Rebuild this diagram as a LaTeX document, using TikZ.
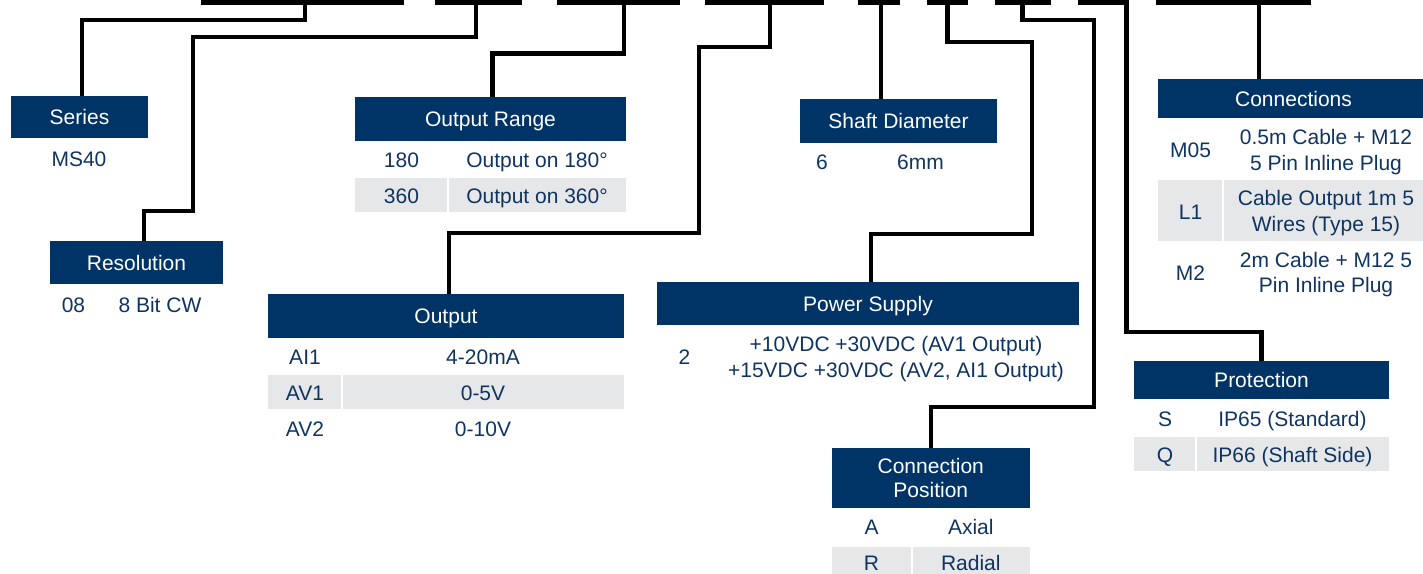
\documentclass[tikz,border=0pt]{standalone}
\usepackage{fontspec}
\setmainfont{Liberation Sans}
\definecolor{navy}{RGB}{0,52,102}
\definecolor{txtnavy}{RGB}{16,52,98}
\definecolor{rowgray}{RGB}{230,231,232}
\begin{document}
\begin{tikzpicture}[x=1pt,y=-1pt,
  font=\fontsize{21}{24}\selectfont,
  hdr/.style={fill=navy, text=white, inner sep=0pt, text height=15pt, text depth=0pt, anchor=center},
  hdrtxt/.style={text=white, inner sep=0pt, anchor=base},
  val/.style={text=txtnavy, inner sep=0pt, anchor=base},
  bar/.style={fill=black, inner sep=0pt, minimum height=4.5pt, anchor=north west},
  conn/.style={draw=black, line width=4.5pt}]
\useasboundingbox (0,0) rectangle (1423,573);
\clip (0,0) rectangle (1423,573);

% top code bars
\node[bar, minimum width=203pt] (b1) at (201,0) {};
\node[bar, minimum width=87pt]  (b2) at (435,0) {};
\node[bar, minimum width=123pt] (b3) at (557,0) {};
\node[bar, minimum width=119pt] (b4) at (705,0) {};
\node[bar, minimum width=42pt]  (b5) at (858,0) {};
\node[bar, minimum width=41pt]  (b6) at (927,0) {};
\node[bar, minimum width=56pt]  (b7) at (995,0) {};
\node[bar, minimum width=51pt]  (b8) at (1078,0) {};
\node[bar, minimum width=155pt] (b9) at (1156,0) {};

% gray row bands
\fill[rowgray] (355,178) rectangle (447,212);
\fill[rowgray] (449,178) rectangle (626,212);
\fill[rowgray] (268,375) rectangle (341,409);
\fill[rowgray] (343,375) rectangle (624,409);
\fill[rowgray] (831.5,547) rectangle (910.5,590);
\fill[rowgray] (912.5,547) rectangle (1030,590);
\fill[rowgray] (1134,437) rectangle (1195,471);
\fill[rowgray] (1197,437) rectangle (1389,471);
\fill[rowgray] (1158,180) rectangle (1222,241);
\fill[rowgray] (1224,180) rectangle (1429,241);

% headers
\node[hdr, minimum width=137pt, minimum height=42pt] (h1) at (79.5,117) {Series};
\node[hdr, minimum width=173pt, minimum height=43pt] (h2) at (136.5,262.5) {Resolution};
\node[hdr, minimum width=271pt, minimum height=44pt] (h3) at (490.5,119) {Output Range};
\node[hdr, minimum width=356pt, minimum height=44pt] (h4) at (446,316) {Output};
\node[hdr, minimum width=197pt, minimum height=44pt] (h5) at (898.5,121) {Shaft Diameter};
\node[hdr, minimum width=422pt, minimum height=43pt] (h6) at (868,303.5) {Power Supply};
\node[hdr, minimum width=198.5pt, minimum height=60pt] (h7) at (930.75,478) {};
\node[hdrtxt] (h7a) at (930.75,473.5) {Connection};
\node[hdrtxt] (h7b) at (930.75,497.5) {Position};
\node[hdr, minimum width=255pt, minimum height=38pt] (h8) at (1261.5,380) {Protection};
\node[hdr, minimum width=271pt, minimum height=39pt] (h9) at (1293.5,98.5) {Connections};

% connectors
\draw[conn] (b1.south -| 305,0) |- (82,20) -- (82,20 |- h1.north);
\draw[conn] (b2.south -| 476,0) |- (193,37) |- (144,211) -- (144,211 |- h2.north);
\draw[conn] (b3.south -| 624,0) |- (492.5,53.5) -- (492.5,53.5 |- h3.north);
\draw[conn] (b4.south -| 770,0) |- (699,47) |- (449,233) -- (449,233 |- h4.north);
\draw[conn] (b5.south -| 881,0) -- (881,0 |- h5.north);
\draw[conn] (b6.south -| 947.5,0) |- (1032,42) |- (871,234) -- (871,234 |- h6.north);
\draw[conn] (b7.south -| 1022.5,0) |- (1094,20) |- (931,407) -- (931,407 |- h7.north);
\draw[conn] (b8.south -| 1126.5,0) |- (1261.5,332) -- (1261.5,332 |- h8.north);
\draw[conn] (b9.south -| 1259,0) -- (1259,0 |- h9.north);

% values
\node[val] (v1) at (79,166.5) {MS40};

\node[val] (v2a) at (73.5,312.5) {08};
\node[val] (v2b) at (160,312.5) {8 Bit CW};

\node[val] (v3a) at (401.5,167.5) {180};
\node[val] (v3b) at (537,167.5) {Output on 180°};
\node[val] (v3c) at (401.5,203.5) {360};
\node[val] (v3d) at (537,203.5) {Output on 360°};

\node[val] (v4a) at (305,364) {AI1};
\node[val] (v4b) at (483,364) {4-20mA};
\node[val] (v4c) at (305,400) {AV1};
\node[val] (v4d) at (483,400) {0-5V};
\node[val] (v4e) at (305,436) {AV2};
\node[val] (v4f) at (483,436) {0-10V};

\node[val] (v5a) at (822,169) {6};
\node[val] (v5b) at (920.5,169) {6mm};

\node[val] (v6a) at (684.5,364) {2};
\node[val] (v6b) at (896,351.5) {+10VDC +30VDC (AV1 Output)};
\node[val] (v6c) at (896,377) {+15VDC +30VDC (AV2, AI1 Output)};

\node[val] (v7a) at (871.5,534.5) {A};
\node[val] (v7b) at (970.8,534.5) {Axial};
\node[val] (v7c) at (871.5,570.5) {R};
\node[val] (v7d) at (970.8,570.5) {Radial};

\node[val] (v8a) at (1165,426.5) {S};
\node[val] (v8b) at (1292.5,426.5) {IP65 (Standard)};
\node[val] (v8c) at (1165,462.5) {Q};
\node[val] (v8d) at (1292.5,462.5) {IP66 (Shaft Side)};

\node[val] (v9a) at (1190.5,157.5) {M05};
\node[val] (v9b) at (1326,144) {0.5m Cable + M12};
\node[val] (v9c) at (1326,170) {5 Pin Inline Plug};
\node[val] (v9d) at (1190.5,219) {L1};
\node[val] (v9e) at (1326,205) {Cable Output 1m 5};
\node[val] (v9f) at (1326,231.5) {Wires (Type 15)};
\node[val] (v9g) at (1190.5,280.5) {M2};
\node[val] (v9h) at (1326,267.5) {2m Cable + M12 5};
\node[val] (v9i) at (1326,292.5) {Pin Inline Plug};
\end{tikzpicture}
\end{document}
